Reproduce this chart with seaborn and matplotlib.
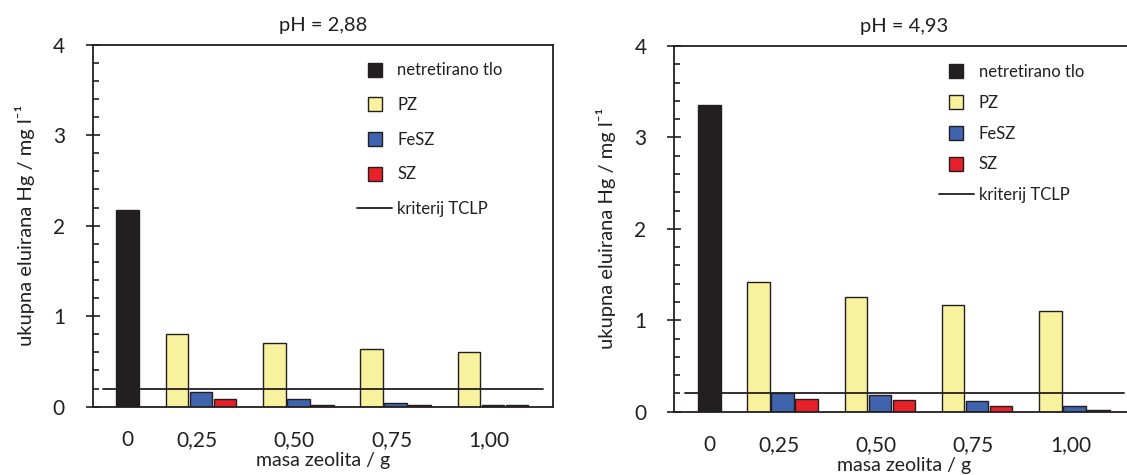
import numpy as np
import pandas as pd
import matplotlib
matplotlib.use("Agg")
import matplotlib.pyplot as plt
from matplotlib.lines import Line2D
from matplotlib.ticker import MultipleLocator
import seaborn as sns

# x categories: masa zeolita / g
masa = ["0", "0,25", "0,50", "0,75", "1,00"]
serije = ["PZ", "FeSZ", "SZ"]

# netretirano tlo (samo za 0 g)
netretirano_288 = [2.17]
netretirano_493 = [3.35]

# pH = 2,88
pz_288 = [0.80, 0.70, 0.64, 0.60]
fesz_288 = [0.16, 0.08, 0.04, 0.02]
sz_288 = [0.08, 0.02, 0.02, 0.02]

# pH = 4,93
pz_493 = [1.42, 1.25, 1.17, 1.10]
fesz_493 = [0.20, 0.18, 0.12, 0.06]
sz_493 = [0.14, 0.13, 0.06, 0.02]

# kriterij TCLP
tclp = [0.2]

naslovi = ["pH = 2,88", "pH = 4,93"]

boje = {
    "netretirano tlo": "#231f20",
    "PZ": "#f8f29e",
    "FeSZ": "#3f63ad",
    "SZ": "#e8202a",
}
TAMNA = "#231f20"


def make_frame(pz, fesz, sz):
    rows = []
    for name, vals in zip(serije, [pz, fesz, sz]):
        for m, v in zip(masa[1:], vals):
            rows.append({"masa": m, "serija": name, "Hg": v})
    return pd.DataFrame(rows)


sns.set_theme(style="white")
plt.rcParams["font.family"] = ["Lato", "DejaVu Sans"]
plt.rcParams["text.color"] = TAMNA
plt.rcParams["axes.labelcolor"] = TAMNA
plt.rcParams["xtick.color"] = TAMNA
plt.rcParams["ytick.color"] = TAMNA

fig = plt.figure(figsize=(11.27, 4.75), dpi=100)
fig.patch.set_facecolor("white")

# axes positions (right panel is cropped by figure edge, as in the original)
positions = [
    [0.0823, 0.1438, 0.4084, 0.7621],
    [0.5983, 0.1333, 0.4084, 0.7700],
]
panels = [
    (netretirano_288, pz_288, fesz_288, sz_288, 1.12),
    (netretirano_493, pz_493, fesz_493, sz_493, 0.89),
]

for idx, (netr, pz, fesz, sz, lsp) in enumerate(panels):
    ax = fig.add_axes(positions[idx])
    df = make_frame(pz, fesz, sz)
    df0 = pd.DataFrame({"masa": masa[:1], "serija": ["netretirano tlo"], "Hg": netr})

    sns.barplot(data=df, x="masa", y="Hg", hue="serija", order=masa,
                hue_order=serije, palette=boje, dodge=True, width=0.74, gap=0.06,
                errorbar=None, edgecolor=TAMNA, linewidth=1.0, legend=False,
                saturation=1, ax=ax)
    # untreated soil bar shares the third slot of the first group
    sns.barplot(data=df0, x="masa", y="Hg", hue="serija", order=masa,
                hue_order=["PZ", "FeSZ", "netretirano tlo"], palette=boje,
                dodge=True, width=0.74, gap=0.06, errorbar=None,
                edgecolor=TAMNA, linewidth=1.0, legend=False, saturation=1, ax=ax)
    crna = ax.patches[-1]
    x0 = crna.get_x() + crna.get_width() / 2

    ax.axhline(tclp[0], xmin=0.023, xmax=0.978, color=TAMNA, lw=1.3, zorder=5)

    ax.set_xlim(-0.113, 4.618)
    ax.set_ylim(0, 4)
    ax.set_xticks([x0] + [k - 0.04 for k in range(1, len(masa))])
    ax.set_xticklabels(masa)
    ax.yaxis.set_major_locator(MultipleLocator(1))
    ax.yaxis.set_minor_locator(MultipleLocator(0.2))
    ax.set_yticklabels([str(int(t)) for t in ax.get_yticks()])

    ax.tick_params(axis="y", which="major", direction="inout", length=10,
                   width=1.2, pad=15, labelsize=15, left=True)
    ax.tick_params(axis="y", which="minor", direction="in", length=4.5,
                   width=1.2, left=True)
    ax.tick_params(axis="x", length=0, pad=17, labelsize=15)

    for sp in ax.spines.values():
        sp.set_color(TAMNA)
        sp.set_linewidth(1.3)

    ax.set_title(naslovi[idx], fontsize=14.5, pad=10)
    ax.set_xlabel("masa zeolita / g", fontsize=14, labelpad=1)
    ax.set_ylabel("ukupna eluirana Hg / mg l\u207b\u00b9", fontsize=14.5, labelpad=13)

    handles = [Line2D([], [], ls="none", marker="s", ms=10, mfc=boje[k],
                      mec=TAMNA, mew=1.0) for k in ["netretirano tlo"] + serije]
    handles.append(Line2D([], [], color=TAMNA, lw=1.3))
    labels = ["netretirano tlo"] + serije + ["kriterij TCLP"]
    ax.legend(handles, labels, loc="upper left", bbox_to_anchor=(0.575, 0.951),
              frameon=False, fontsize=12, handlelength=2.1, handletextpad=0.3,
              labelspacing=lsp, borderpad=0, borderaxespad=0)

fig.savefig("out.png", dpi=100, facecolor="white")
